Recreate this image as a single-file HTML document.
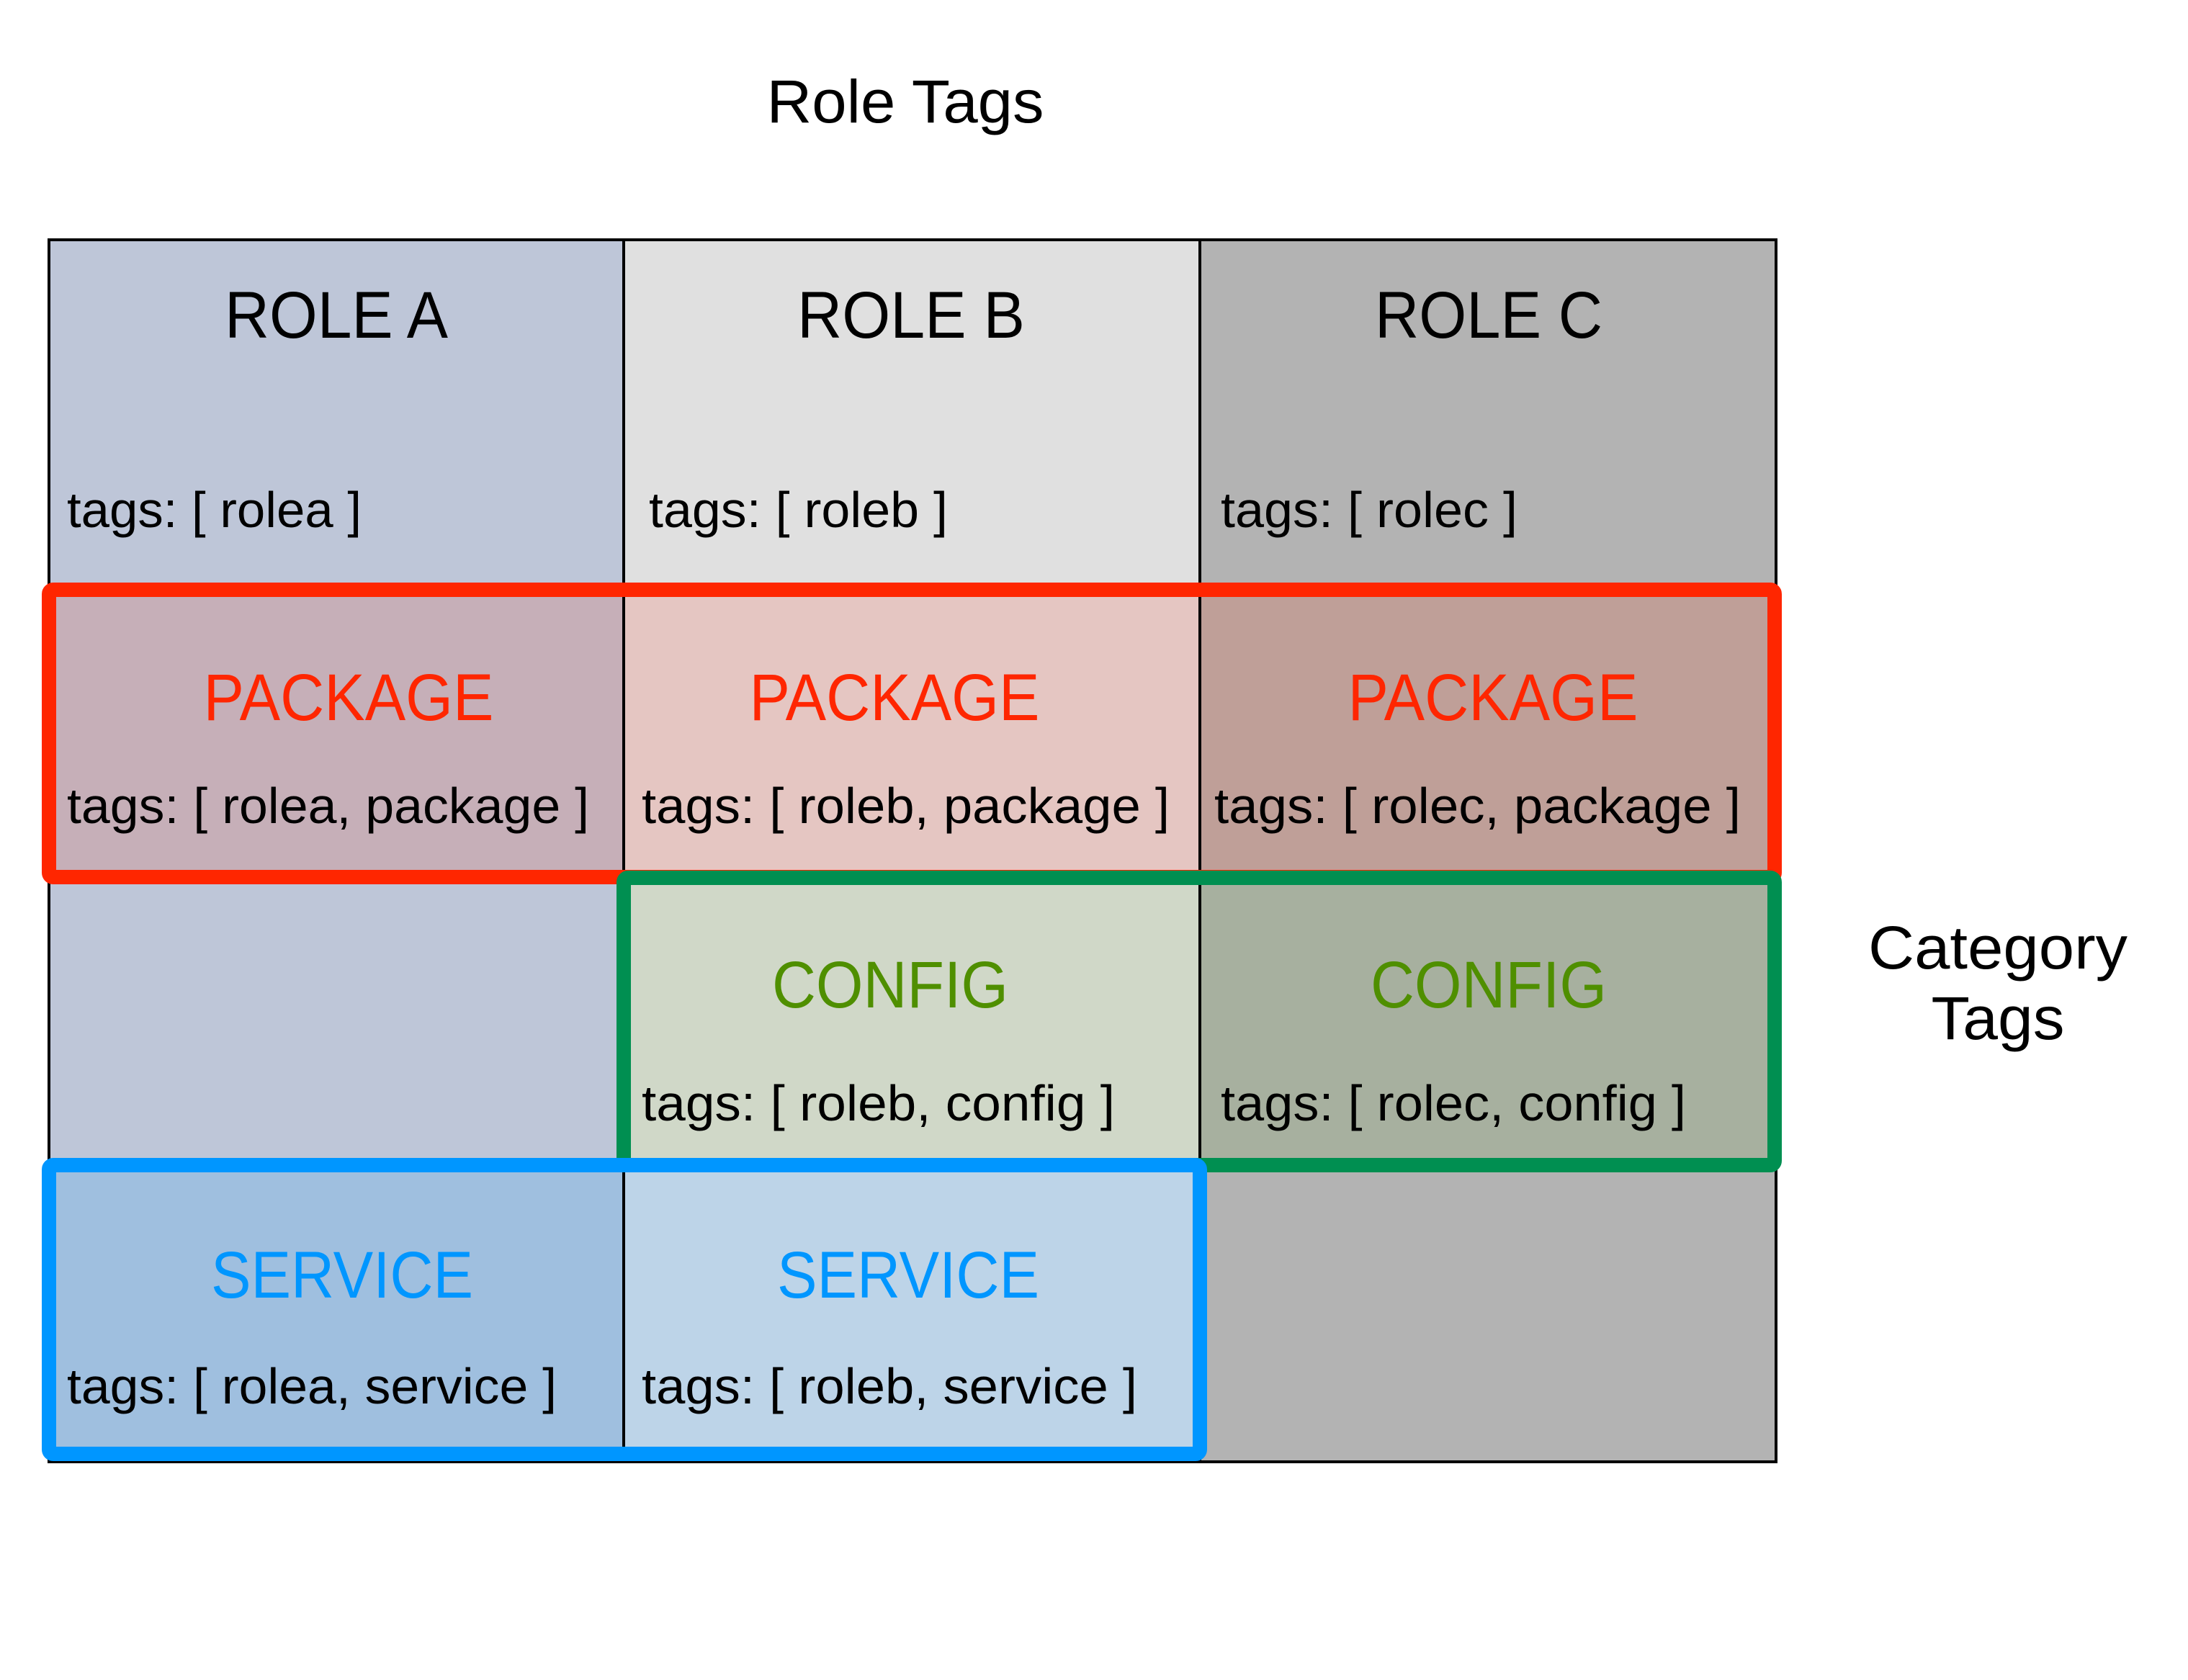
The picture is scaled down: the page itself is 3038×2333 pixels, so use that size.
<!DOCTYPE html>
<html><head><meta charset="utf-8"><style>html,body{margin:0;padding:0;background:#fff;}svg{display:block}</style></head>
<body>
<svg width="3038" height="2333" viewBox="0 0 3038 2333" xmlns="http://www.w3.org/2000/svg" font-family="'Liberation Sans', Arial, sans-serif">
<rect width="3038" height="2333" fill="#fff"/>
<rect x="68" y="333" width="798" height="485" fill="#bec6d8"/>
<rect x="866" y="333" width="800" height="485" fill="#e0e0e0"/>
<rect x="1666" y="333" width="800" height="485" fill="#b3b3b3"/>
<rect x="68" y="818" width="798" height="399" fill="#c6afb8"/>
<rect x="866" y="818" width="800" height="399" fill="#e5c6c2"/>
<rect x="1666" y="818" width="800" height="399" fill="#bf9f98"/>
<rect x="68" y="1217" width="798" height="399" fill="#bec6d8"/>
<rect x="866" y="1217" width="800" height="399" fill="#d0d8c8"/>
<rect x="1666" y="1217" width="800" height="399" fill="#a7b09f"/>
<rect x="68" y="1616" width="798" height="414" fill="#9fbfdf"/>
<rect x="866" y="1616" width="800" height="414" fill="#bdd4e8"/>
<rect x="1666" y="1616" width="800" height="414" fill="#b3b3b3"/>
<rect x="68" y="333" width="2398" height="1697" fill="none" stroke="#000" stroke-width="4"/>
<line x1="866" y1="333" x2="866" y2="2030" stroke="#000" stroke-width="4"/>
<line x1="1666" y1="333" x2="1666" y2="2030" stroke="#000" stroke-width="4"/>
<rect x="68" y="819" width="2396" height="399" rx="6" fill="none" stroke="#ff2600" stroke-width="20"/>
<rect x="866" y="1219" width="1598" height="399" rx="6" fill="none" stroke="#008f51" stroke-width="20"/>
<rect x="68" y="1618" width="1598" height="401" rx="6" fill="none" stroke="#0096ff" stroke-width="20"/>
<text x="1257" y="170" font-size="84" text-anchor="middle" textLength="385" lengthAdjust="spacingAndGlyphs">Role Tags</text>
<text x="2774" y="1345" font-size="84" text-anchor="middle" textLength="360" lengthAdjust="spacingAndGlyphs">Category</text>
<text x="2774" y="1443" font-size="84" text-anchor="middle" textLength="185" lengthAdjust="spacingAndGlyphs">Tags</text>
<g font-size="92" text-anchor="middle">
<text x="467" y="469" textLength="310" lengthAdjust="spacingAndGlyphs">ROLE A</text>
<text x="1265" y="469" textLength="316" lengthAdjust="spacingAndGlyphs">ROLE B</text>
<text x="2067" y="469" textLength="316" lengthAdjust="spacingAndGlyphs">ROLE C</text>
<text x="484" y="1000" fill="#ff2600" textLength="403" lengthAdjust="spacingAndGlyphs">PACKAGE</text>
<text x="1242" y="1000" fill="#ff2600" textLength="403" lengthAdjust="spacingAndGlyphs">PACKAGE</text>
<text x="2073" y="1000" fill="#ff2600" textLength="403" lengthAdjust="spacingAndGlyphs">PACKAGE</text>
<text x="1236" y="1399" fill="#4f8f00" textLength="328" lengthAdjust="spacingAndGlyphs">CONFIG</text>
<text x="2067" y="1399" fill="#4f8f00" textLength="328" lengthAdjust="spacingAndGlyphs">CONFIG</text>
<text x="475" y="1802" fill="#0096ff" textLength="364" lengthAdjust="spacingAndGlyphs">SERVICE</text>
<text x="1261" y="1802" fill="#0096ff" textLength="364" lengthAdjust="spacingAndGlyphs">SERVICE</text>
</g>
<g font-size="70">
<text x="93" y="732" textLength="409" lengthAdjust="spacingAndGlyphs">tags: [ rolea ]</text>
<text x="901" y="732" textLength="415" lengthAdjust="spacingAndGlyphs">tags: [ roleb ]</text>
<text x="1695" y="732" textLength="412" lengthAdjust="spacingAndGlyphs">tags: [ rolec ]</text>
<text x="93" y="1143" textLength="725" lengthAdjust="spacingAndGlyphs">tags: [ rolea, package ]</text>
<text x="891" y="1143" textLength="733" lengthAdjust="spacingAndGlyphs">tags: [ roleb, package ]</text>
<text x="1686" y="1143" textLength="731" lengthAdjust="spacingAndGlyphs">tags: [ rolec, package ]</text>
<text x="891" y="1556" textLength="657" lengthAdjust="spacingAndGlyphs">tags: [ roleb, config ]</text>
<text x="1695" y="1556" textLength="646" lengthAdjust="spacingAndGlyphs">tags: [ rolec, config ]</text>
<text x="93" y="1949" textLength="680" lengthAdjust="spacingAndGlyphs">tags: [ rolea, service ]</text>
<text x="891" y="1949" textLength="688" lengthAdjust="spacingAndGlyphs">tags: [ roleb, service ]</text>
</g>
</svg>
</body></html>
